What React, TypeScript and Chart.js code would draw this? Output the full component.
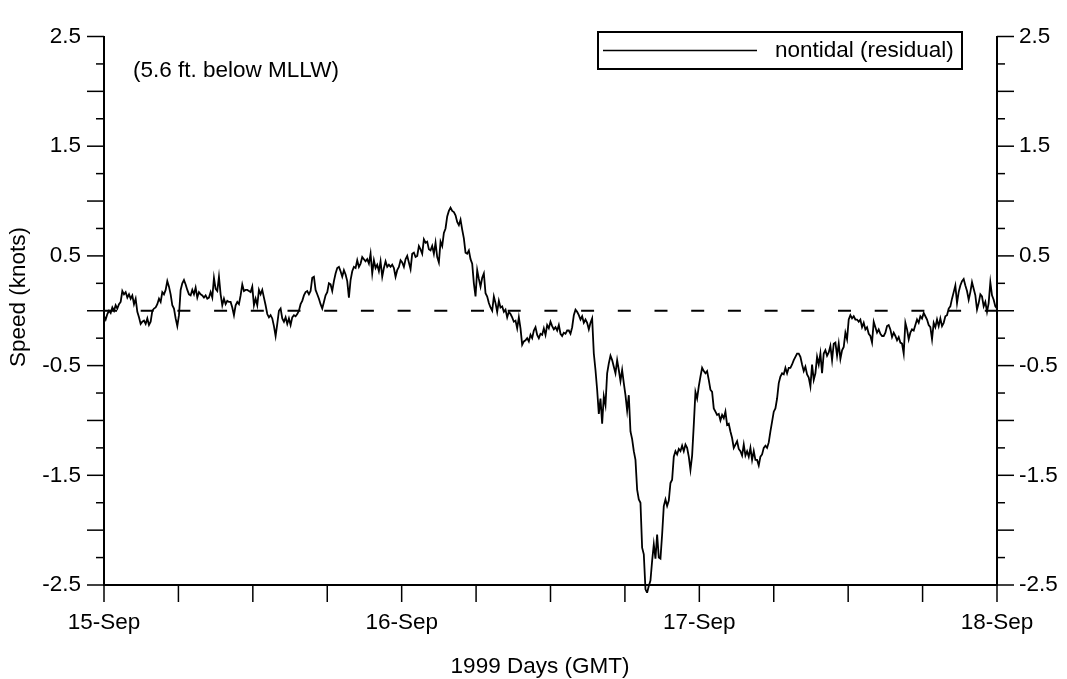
import React, { useEffect, useRef } from 'react';
import { Chart, registerables } from 'chart.js';

Chart.register(...registerables);

// Nontidal (residual) current speed, knots, sampled evenly from 15-Sep 00:00 to 18-Sep 00:00 (GMT)
const residualPart1 = [
  -0.05, -0.08, -0.03, 0.00, -0.02, 0.03, 0.00, 0.05, 0.02, 0.06,
  0.08, 0.18, 0.15, 0.17, 0.12, 0.15, 0.11, 0.14, 0.06, 0.11,
  -0.01, -0.06, -0.12, -0.10, -0.09, -0.12, -0.07, -0.13, -0.10, 0.00,
  0.02, 0.03, 0.06, 0.11, 0.08, 0.17, 0.15, 0.19, 0.27, 0.22,
  0.15, 0.05, 0.02, -0.07, -0.14, -0.04, 0.19, 0.25, 0.28, 0.24,
  0.19, 0.15, 0.14, 0.19, 0.15, 0.21, 0.12, 0.17, 0.15, 0.14,
  0.12, 0.14, 0.11, 0.12, 0.17, 0.12, 0.30, 0.20, 0.18, 0.31,
  0.15, 0.05, 0.11, 0.06, 0.09, 0.08, 0.08, 0.03, -0.04, 0.05,
  0.08, 0.06, 0.14, 0.24, 0.18, 0.19, 0.19, 0.18, 0.17, 0.22,
  0.05, 0.11, 0.05, 0.19, 0.15, 0.19, 0.12, 0.05, -0.03, -0.06,
  -0.04, -0.07, -0.14, -0.23, -0.12, 0.00, 0.02, -0.07, -0.10, -0.06,
  -0.12, -0.07, -0.13, -0.06, -0.04, -0.05, -0.03, 0.00, 0.06, 0.09,
  0.14, 0.17, 0.18, 0.15, 0.18, 0.30, 0.31, 0.19, 0.15, 0.11,
  0.06, 0.02, 0.08, 0.14, 0.17, 0.25, 0.24, 0.18, 0.27, 0.34,
  0.39, 0.40, 0.36, 0.31, 0.37, 0.33, 0.27, 0.12, 0.28, 0.36,
  0.40, 0.39, 0.46, 0.40, 0.43, 0.49, 0.47, 0.45, 0.47, 0.43,
  0.52, 0.34, 0.46, 0.39, 0.42, 0.36, 0.45, 0.31, 0.39, 0.45,
  0.40, 0.42, 0.40, 0.42, 0.39, 0.31, 0.37, 0.40,
];

const residualPart2 = [
  0.46, 0.44, 0.40, 0.47, 0.50, 0.44, 0.38, 0.52, 0.53, 0.49,
  0.50, 0.59, 0.56, 0.52, 0.65, 0.62, 0.63, 0.56, 0.55, 0.59,
  0.52, 0.62, 0.49, 0.44, 0.63, 0.59, 0.71, 0.75, 0.86, 0.91,
  0.94, 0.91, 0.90, 0.87, 0.81, 0.78, 0.83, 0.74, 0.66, 0.53,
  0.52, 0.55, 0.47, 0.43, 0.25, 0.13, 0.37, 0.29, 0.22, 0.30,
  0.34, 0.16, 0.13, 0.07, 0.03, 0.00, 0.13, 0.07, -0.01, 0.09,
  0.03, 0.04, -0.01, 0.01, -0.06, -0.01, -0.03, -0.06, -0.10, -0.09,
  -0.16, -0.06, -0.16, -0.31, -0.28, -0.27, -0.25, -0.28, -0.22, -0.25,
  -0.18, -0.15, -0.22, -0.25, -0.21, -0.22, -0.16, -0.22, -0.13, -0.16,
];

const residualPart3 = [
  -0.10, -0.14, -0.17, -0.15, -0.18, -0.13, -0.21, -0.23, -0.20, -0.21,
  -0.18, -0.18, -0.21, -0.15, -0.04, 0.01, -0.01, -0.04, -0.08, -0.05,
  -0.11, -0.08, -0.11, -0.17, -0.11, -0.07, -0.39, -0.54, -0.72, -0.94,
  -0.80, -1.03, -0.78, -0.86, -0.57, -0.48, -0.41, -0.45, -0.51, -0.57,
  -0.45, -0.54, -0.64, -0.54, -0.66, -0.77, -0.91, -0.77, -1.10, -1.17,
  -1.28, -1.36, -1.63, -1.72, -1.75, -2.16, -2.22, -2.54, -2.57, -2.51,
  -2.46, -2.28, -2.13, -2.26, -2.04, -2.25, -2.26, -2.04, -1.78, -1.72,
  -1.78, -1.73, -1.57, -1.54, -1.33, -1.28, -1.31, -1.26, -1.28, -1.23,
  -1.28, -1.22, -1.25, -1.33, -1.45, -1.32, -1.04, -0.74, -0.80, -0.69,
  -0.60, -0.52, -0.55, -0.57, -0.55, -0.63, -0.72, -0.74, -0.89, -0.92,
  -0.95, -0.94, -1.00, -0.95, -0.98, -0.92, -1.04, -1.03, -1.10, -1.16,
  -1.25, -1.22, -1.19, -1.26, -1.28, -1.32, -1.22, -1.32, -1.28, -1.33,
  -1.25, -1.36, -1.28, -1.36, -1.36, -1.41, -1.33, -1.31, -1.25, -1.23,
  -1.25, -1.20, -1.10, -1.01, -0.92, -0.89, -0.80, -0.66,
];

const residualPart4 = [
  -0.60, -0.57, -0.58, -0.52, -0.57, -0.52, -0.52, -0.49, -0.45, -0.42,
  -0.39, -0.39, -0.42, -0.49, -0.55, -0.51, -0.58, -0.61, -0.69, -0.49,
  -0.63, -0.57, -0.42, -0.49, -0.39, -0.57, -0.39, -0.36, -0.41, -0.38,
  -0.32, -0.45, -0.30, -0.29, -0.41, -0.30, -0.44, -0.36, -0.33, -0.20,
  -0.26, -0.08, -0.04, -0.07, -0.05, -0.08, -0.08, -0.10, -0.08, -0.15,
  -0.11, -0.17, -0.15, -0.21, -0.23, -0.29, -0.10, -0.15, -0.20, -0.17,
  -0.21, -0.23, -0.23, -0.20, -0.14, -0.13, -0.17, -0.24, -0.20, -0.23,
  -0.27, -0.24, -0.29, -0.30, -0.39, -0.11, -0.17, -0.26, -0.20, -0.17,
  -0.18, -0.13, -0.08, -0.11, -0.05, -0.07, -0.02, -0.05, -0.08, -0.13,
  -0.15, -0.26, -0.11, -0.15, -0.08, -0.14, -0.07, -0.14, -0.11, -0.05,
  -0.04, 0.02, 0.04, 0.11, 0.17, 0.23, 0.07, 0.17, 0.23, 0.27,
  0.29, 0.23, 0.18, 0.10, 0.17, 0.26, 0.20, 0.14, 0.01, 0.07,
  0.15, 0.13, 0.04, 0.08, -0.01, 0.07, 0.26, 0.14, 0.10, 0.04,
  0.02,
];

const dayLabels = ['15-Sep', '16-Sep', '17-Sep', '18-Sep'];
const yLabelValues = [2.5, 1.5, 0.5, -0.5, -1.5, -2.5];
const zeroLineDays = [0, 3];
const zeroLineValues = [0, 0];
const legendLabel = 'nontidal (residual)';
const depthNote = '(5.6 ft. below MLLW)';
const xTitle = '1999 Days (GMT)';
const yTitle = 'Speed (knots)';
const SPAN_DAYS = 3;

const FONT = "'Liberation Sans', Arial, Helvetica, sans-serif";
const FSIZE = 22.5;

const residual = [...residualPart1, ...residualPart2, ...residualPart3, ...residualPart4];
const residualPoints = residual.map((v, i) => ({ x: (i * SPAN_DAYS) / (residual.length - 1), y: v }));
const zeroPoints = zeroLineDays.map((d, i) => ({ x: d, y: zeroLineValues[i] }));

const decorPlugin = {
  id: 'decor',
  afterDraw(chart: any) {
    const ctx = chart.ctx as CanvasRenderingContext2D;
    const { left, right, bottom } = chart.chartArea;
    const ys = chart.scales.y;
    const xs = chart.scales.x;
    ctx.save();
    ctx.strokeStyle = '#000';
    ctx.lineWidth = 1.5;
    const seg = (x1: number, y1: number, x2: number, y2: number) => {
      ctx.beginPath();
      ctx.moveTo(x1, y1);
      ctx.lineTo(x2, y2);
      ctx.stroke();
    };
    ys.ticks.forEach((t: any) => {
      const py = ys.getPixelForValue(t.value);
      const major = Math.abs(t.value * 2 - Math.round(t.value * 2)) < 1e-6;
      const len = major ? 17 : 8;
      seg(left - len, py, left, py);
      seg(right, py, right + len, py);
    });
    xs.ticks.forEach((t: any) => {
      const px = xs.getPixelForValue(t.value);
      seg(px, bottom, px, bottom + 17);
    });

    // legend box
    ctx.lineWidth = 2;
    ctx.strokeRect(598, 32, 364, 37);
    ctx.lineWidth = 1.6;
    seg(603, 50.5, 757, 50.5);
    ctx.fillStyle = '#000';
    ctx.font = `${FSIZE}px ${FONT}`;
    ctx.textBaseline = 'middle';
    ctx.textAlign = 'left';
    ctx.fillText(legendLabel, 775, 51);
    ctx.fillText(depthNote, 133, 71);

    // axis titles
    ctx.textAlign = 'center';
    ctx.fillText(xTitle, 540, 667);
    ctx.save();
    ctx.translate(19, 297);
    ctx.rotate(-Math.PI / 2);
    ctx.fillText(yTitle, 0, 0);
    ctx.restore();
    ctx.restore();
  },
};

export default function App() {
  const ref = useRef<HTMLCanvasElement | null>(null);
  useEffect(() => {
    if (!ref.current) return;
    Chart.defaults.font.family = FONT;
    Chart.defaults.font.size = FSIZE;
    Chart.defaults.color = '#000';
    const yScaleBase = (position: 'left' | 'right', width: number, pad: number) => ({
      type: 'linear' as const,
      position,
      min: -2.5,
      max: 2.5,
      afterFit: (s: any) => {
        s.width = width;
      },
      grid: { display: true, drawOnChartArea: false, drawTicks: false },
      border: { display: true, color: '#000', width: 2 },
      ticks: {
        stepSize: 0.25,
        autoSkip: false,
        padding: pad,
        color: '#000',
        font: { size: FSIZE, family: FONT },
        callback: (v: any) => {
          const n = Number(v);
          return yLabelValues.some((l) => Math.abs(l - n) < 1e-6) ? n.toFixed(1) : '';
        },
      },
    });
    const chart = new Chart(ref.current, {
      type: 'line',
      data: {
        datasets: [
          {
            label: legendLabel,
            data: residualPoints,
            borderColor: '#000',
            borderWidth: 1.8,
            pointRadius: 0,
            tension: 0,
            fill: false,
            clip: 8,
          } as any,
          {
            label: 'zero',
            data: zeroPoints,
            borderColor: '#000',
            borderWidth: 1.8,
            borderDash: [13, 23.7],
            pointRadius: 0,
            fill: false,
          } as any,
        ],
      },
      options: {
        animation: false,
        responsive: false,
        devicePixelRatio: 1,
        layout: { padding: { top: 20, left: 0, right: 0, bottom: 0 } },
        plugins: { legend: { display: false }, tooltip: { enabled: false } },
        scales: {
          x: {
            type: 'linear',
            position: 'bottom',
            min: 0,
            max: SPAN_DAYS,
            afterFit: (s: any) => {
              s.height = 94;
            },
            grid: { display: true, drawOnChartArea: false, drawTicks: false },
            border: { display: true, color: '#000', width: 2 },
            ticks: {
              stepSize: 0.25,
              autoSkip: false,
              maxRotation: 0,
              padding: 24,
              color: '#000',
              font: { size: FSIZE, family: FONT },
              callback: (v: any) => {
                const n = Number(v);
                return Math.abs(n - Math.round(n)) < 1e-6 ? dayLabels[Math.round(n)] : '';
              },
            },
          },
          y: yScaleBase('left', 104, 23),
          y2: yScaleBase('right', 70, 22),
        },
      } as any,
      plugins: [decorPlugin],
    });
    return () => chart.destroy();
  }, []);
  return (
    <div style={{ position: 'absolute', left: 0, top: 0, width: 1067, height: 679, background: '#fff' }}>
      <canvas ref={ref} width={1067} height={679} style={{ display: 'block', width: 1067, height: 679 }} />
    </div>
  );
}
